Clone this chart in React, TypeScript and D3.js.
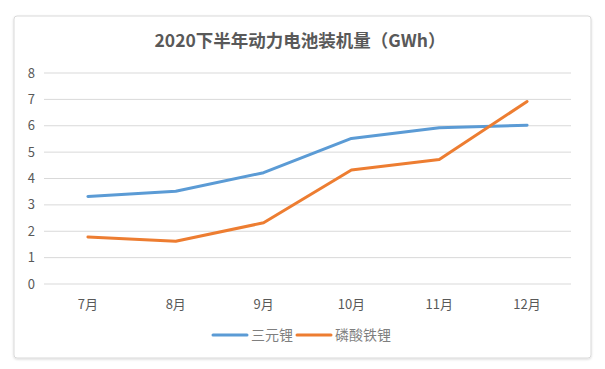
import React from "react";
import * as d3 from "d3";

const months = ["7月", "8月", "9月", "10月", "11月", "12月"];
const ternary = [3.32, 3.52, 4.22, 5.52, 5.92, 6.02];
const lfp = [1.78, 1.62, 2.32, 4.32, 4.72, 6.92];
const yTicks = [0, 1, 2, 3, 4, 5, 6, 7, 8];
const seriesNames = ["三元锂", "磷酸铁锂"];
const seriesColors = ["#5B9BD5", "#ED7D31"];

const font = "'Noto Sans CJK SC', 'Noto Sans', sans-serif";

function LineChart() {
  const width = 605;
  const height = 369;
  const left = 44;
  const right = 571;
  const top = 73;
  const bottom = 284;

  const x = d3.scalePoint<string>().domain(months).range([left, right]).padding(0.5);
  const y = d3.scaleLinear().domain([0, 8]).range([bottom, top]);

  const line = d3
    .line<number>()
    .x((_, i) => x(months[i]) as number)
    .y((d) => y(d));

  const allSeries = [ternary, lfp];
  // legend positions (line start, text start)
  const legendX = [213, 297];

  return (
    <svg
      width={width}
      height={height}
      style={{ position: "absolute", left: 0, top: 0, background: "#fff" }}
    >
      <defs>
        <filter id="sh" x="-5%" y="-5%" width="110%" height="110%">
          <feDropShadow dx="0" dy="1" stdDeviation="1" floodColor="#000" floodOpacity="0.15" />
        </filter>
      </defs>
      <rect
        x={14}
        y={16}
        width={577}
        height={342}
        rx={3}
        fill="#fff"
        stroke="#d9d9d9"
        filter="url(#sh)"
      />
      <text
        x={300}
        y={47}
        textAnchor="middle"
        fontFamily={font}
        fontSize={17.5}
        fontWeight="bold"
        fill="#595959"
      >
        2020下半年动力电池装机量（GWh）
      </text>

      {yTicks.map((t) => (
        <g key={t}>
          <line x1={left} x2={right} y1={y(t)} y2={y(t)} stroke="#d9d9d9" strokeWidth={1} />
          <text
            x={35}
            y={y(t)}
            dy="0.35em"
            textAnchor="end"
            fontFamily={font}
            fontSize={13}
            fill="#595959"
          >
            {t}
          </text>
        </g>
      ))}

      {months.map((m) => (
        <text
          key={m}
          x={x(m)}
          y={309}
          textAnchor="middle"
          fontFamily={font}
          fontSize={13}
          fill="#595959"
        >
          {m}
        </text>
      ))}

      {allSeries.map((s, i) => (
        <path
          key={seriesNames[i]}
          d={line(s) ?? ""}
          fill="none"
          stroke={seriesColors[i]}
          strokeWidth={3}
          strokeLinecap="round"
          strokeLinejoin="round"
        />
      ))}

      {seriesNames.map((name, i) => {
        const lx = legendX[i];
        return (
          <g key={name}>
            <line
              x1={lx}
              x2={lx + 34}
              y1={335}
              y2={335}
              stroke={seriesColors[i]}
              strokeWidth={3}
              strokeLinecap="round"
            />
            <text
              x={lx + 38}
              y={335}
              dy="0.36em"
              fontFamily={font}
              fontSize={14}
              fill="#7f7f7f"
            >
              {name}
            </text>
          </g>
        );
      })}
    </svg>
  );
}

export default function App() {
  return <LineChart />;
}
